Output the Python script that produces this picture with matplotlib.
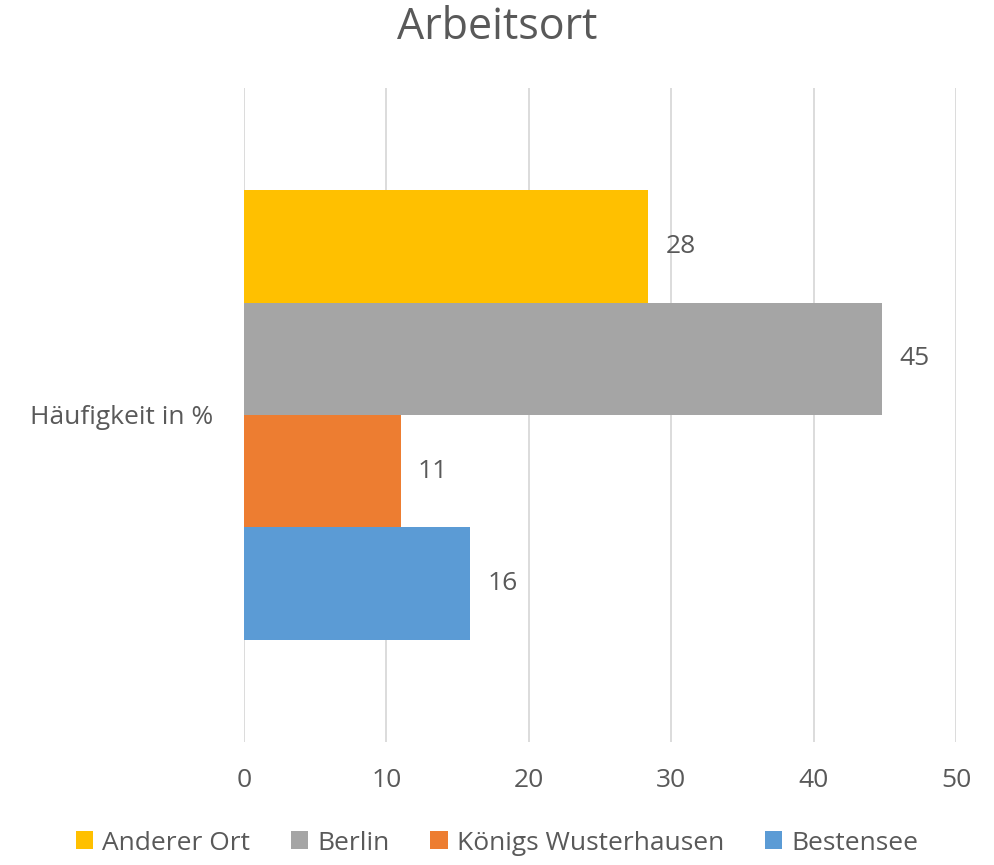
import matplotlib
matplotlib.use("Agg")
import matplotlib.pyplot as plt
from matplotlib.patches import Patch

plt.rcParams['font.family'] = ['Open Sans', 'DejaVu Sans']

category = "Häufigkeit in %"
series = ["Anderer Ort", "Berlin", "Königs Wusterhausen", "Bestensee"]
values = [28.4, 44.8, 11.0, 15.9]
labels = ["28", "45", "11", "16"]
colors = ["#FFC000", "#A5A5A5", "#ED7D31", "#5B9BD5"]
xticks = [0, 10, 20, 30, 40, 50]

txt = "#595959"
fig = plt.figure(figsize=(9.94, 8.65), dpi=100)
ax = fig.add_axes([244/994, 1-742/865, (956-244)/994, (742-88)/865])

h = 449/654/4
n = len(series)
for i, (s, v, c, l) in enumerate(zip(series, values, colors, labels)):
    y = (n-1)/2*h - i*h
    ax.barh(y, v, height=h, color=c, zorder=3)
    ax.text(v + 1.2, y, l, va='center', ha='left', fontsize=19, color=txt)

ax.set_xlim(0, 50)
ax.set_ylim(-0.5, 0.5)
ax.set_xticks(xticks)
ax.set_xticklabels([str(t) for t in xticks], fontsize=19, color=txt)
ax.set_yticks([0])
ax.set_yticklabels([category], fontsize=19, color=txt)
ax.tick_params(axis='x', length=0, pad=19)
ax.tick_params(axis='y', length=0, pad=22)
ax.grid(axis='x', color='#D9D9D9', linewidth=1.3, zorder=0)
for sp in ax.spines.values():
    sp.set_visible(False)

fig.suptitle("Arbeitsort", y=1-28/865, va='center', fontsize=31, color=txt)

handles = [Patch(facecolor=c, label=s) for s, c in zip(series, colors)]
fig.legend(handles=handles, loc='center', bbox_to_anchor=(0.5, 1-843/865), ncol=4,
           frameon=False, fontsize=19, labelcolor=txt, handlelength=0.65, handleheight=0.65,
           handletextpad=0.35, columnspacing=1.55, borderpad=0)

fig.savefig("out.png", dpi=100)
